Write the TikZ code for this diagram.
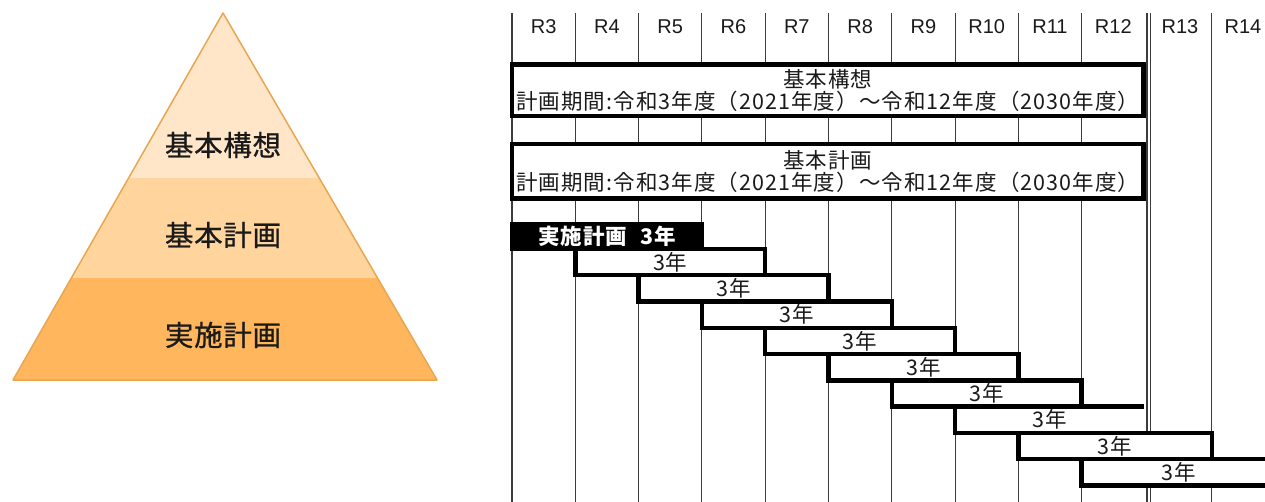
\documentclass[tikz,border=0pt]{standalone}
\usepackage{fontspec}
\setmainfont{Liberation Sans}
\newfontfamily\jp[LetterSpace=5]{Noto Sans CJK JP}
\newfontfamily\jpbig[LetterSpace=2.5,FakeBold=0.8]{Noto Sans CJK JP}
\definecolor{pyrtop}{HTML}{FFE6C9}
\definecolor{pyrmid}{HTML}{FFD59D}
\definecolor{pyrbot}{HTML}{FFB65C}
\definecolor{pyrline}{HTML}{E8A650}
\definecolor{ink}{HTML}{1A1A1A}

\begin{document}
\begin{tikzpicture}[x=1pt,y=-1pt,
  yearline/.style={draw=ink!85,line width=1.1pt},
  planbar/.style={draw=black,line width=4.5pt,fill=white},
  barlabel/.style={font=\jp\fontsize{21.5}{20}\selectfont,text=ink,inner sep=0pt},
  jisshilabel/.style={font=\jp\bfseries\fontsize{21.5}{20}\selectfont,text=white,inner sep=0pt},
  yearlabel/.style={font=\fontsize{20}{20}\selectfont,text=ink},
  pyrlabel/.style={font=\jpbig\fontsize{28.5}{28.5}\selectfont,text=ink}]
\useasboundingbox (0,0) rectangle (1265,502);
\clip (0,0) rectangle (1265,502);

% pyramid
\begin{scope}
\clip (223,13) -- (437,380) -- (13,380) -- cycle;
\fill[pyrtop] (0,0) rectangle (450,178);
\fill[pyrmid] (0,178) rectangle (450,278);
\fill[pyrbot] (0,278) rectangle (450,390);
\end{scope}
\draw[pyrline,line width=1.5pt,line join=round] (223,13) -- (437,380) -- (13,380) -- cycle;
\node[pyrlabel] (koso) at (223,145) {基本構想};
\node[pyrlabel] (kihon) at (223,235) {基本計画};
\node[pyrlabel] (jisshi) at (223,335) {実施計画};

% year columns
\foreach \k in {0,...,9}
  \draw[yearline] (512+63.3*\k,13) -- (512+63.3*\k,502);
\draw[yearline] (1147,13) -- (1147,502);
\draw[yearline] (1150.2,13) -- (1150.2,502);
\draw[yearline] (1211.8,13) -- (1211.8,502);
\foreach \lab [count=\i from 0] in {R3,R4,R5,R6,R7,R8,R9,R10,R11,R12}
  \node[yearlabel] (y\i) at (543.6+63.3*\i,27) {\lab};
\node[yearlabel] (y10) at (1180,27) {R13};
\node[yearlabel] (y11) at (1243,27) {R14};

% whole-period plans
\draw[planbar] (512,64.5) rectangle (1143.5,116);
\node[barlabel,align=center] (kosobox) at (827.7,90.5) {基本構想\\計画期間:令和3年度（2021年度）〜令和12年度（2030年度）};
\draw[planbar] (512,144) rectangle (1143.5,198.5);
\node[barlabel,align=center] (kihonbox) at (827.7,171.5) {基本計画\\計画期間:令和3年度（2021年度）〜令和12年度（2030年度）};

% rolling 3-year plans
\fill[black] (510,222) rectangle (704,251);
\node[jisshilabel] (jisshibar) at (607,236.5) {実施計画\hspace{13pt}3年};
\foreach \l/\r/\t [count=\i] in {575.3/765.2/249, 638.6/828.5/275.25, 701.9/891.8/301.5, 765.2/955.1/327.75, 828.5/1018.4/354, 891.8/1081.7/380.25}
{
  \draw[planbar] (\l,\t) rectangle (\r,\t+26.25);
  \node[barlabel] (bar\i) at ({(\l+\r)/2},\t+13.1) {3年};
}
\fill[white] (955.1,406.5) rectangle (1145,432.75);
\draw[line width=4.5pt] (1143.5,406.5) -- (955.1,406.5) -- (955.1,432.75) -- (1145,432.75);
\node[barlabel] (bar7) at (1050,419.6) {3年};
\draw[planbar] (1018.4,432.75) rectangle (1211.8,459);
\node[barlabel] (bar8) at (1115,445.9) {3年};
\draw[planbar] (1081.7,459) rectangle (1275,485.25);
\node[barlabel] (bar9) at (1178.4,472.1) {3年};
\end{tikzpicture}
\end{document}
